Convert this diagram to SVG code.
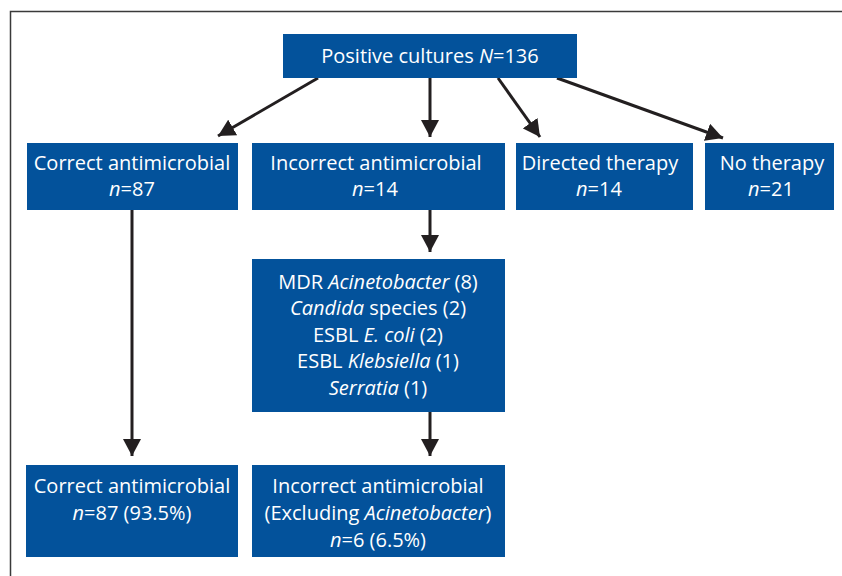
<svg xmlns="http://www.w3.org/2000/svg" width="842" height="576" viewBox="0 0 842 576">
<defs>
<style>
.box{fill:#03529b}
.t{font-family:"Open Sans","Noto Sans",sans-serif;font-size:20px;fill:#ffffff;text-anchor:middle}
.i{font-style:italic}
.c{stroke:#231f20;stroke-width:3;fill:none}
</style>
<marker id="ah" viewBox="0 0 17 18" refX="17" refY="9" markerWidth="17" markerHeight="18" markerUnits="userSpaceOnUse" orient="auto">
<path d="M0,0 L17,9 L0,18 Z" fill="#231f20"/>
</marker>
</defs>
<rect width="842" height="576" fill="#ffffff"/>
<path d="M10.5,576 V11.5 H842" fill="none" stroke="#3a3a3a" stroke-width="1.5"/>
<g id="connectors">
<line class="c" x1="318" y1="78" x2="218" y2="136" marker-end="url(#ah)"/>
<line class="c" x1="430" y1="78" x2="430" y2="137" marker-end="url(#ah)"/>
<line class="c" x1="498" y1="78" x2="540" y2="137" marker-end="url(#ah)"/>
<line class="c" x1="557" y1="78" x2="723" y2="138" marker-end="url(#ah)"/>
<line class="c" x1="132" y1="210" x2="132" y2="456" marker-end="url(#ah)"/>
<line class="c" x1="430" y1="210" x2="430" y2="252" marker-end="url(#ah)"/>
<line class="c" x1="430" y1="412" x2="430" y2="456" marker-end="url(#ah)"/>
</g>
<g id="positive">
<rect class="box" x="283" y="34" width="294" height="44"/>
<text class="t" x="430" y="63">Positive cultures <tspan class="i">N</tspan>=136</text>
</g>
<g id="correct">
<rect class="box" x="27" y="143" width="211" height="67"/>
<text class="t" x="132" y="170">Correct antimicrobial</text>
<text class="t" x="132" y="196"><tspan class="i">n</tspan>=87</text>
</g>
<g id="incorrect">
<rect class="box" x="252" y="143" width="253" height="67"/>
<text class="t" x="376" y="170">Incorrect antimicrobial</text>
<text class="t" x="375" y="196"><tspan class="i">n</tspan>=14</text>
</g>
<g id="directed">
<rect class="box" x="516" y="143" width="177" height="67"/>
<text class="t" x="600" y="170">Directed therapy</text>
<text class="t" x="599" y="196"><tspan class="i">n</tspan>=14</text>
</g>
<g id="notherapy">
<rect class="box" x="705" y="143" width="129" height="67"/>
<text class="t" x="772" y="170">No therapy</text>
<text class="t" x="771" y="196"><tspan class="i">n</tspan>=21</text>
</g>
<g id="organisms">
<rect class="box" x="252" y="259" width="253" height="153"/>
<text class="t" x="378" y="289">MDR <tspan class="i">Acinetobacter</tspan> (8)</text>
<text class="t" x="378" y="315"><tspan class="i">Candida</tspan> species (2)</text>
<text class="t" x="378" y="342">ESBL <tspan class="i">E. coli</tspan> (2)</text>
<text class="t" x="378" y="368">ESBL <tspan class="i">Klebsiella</tspan> (1)</text>
<text class="t" x="378" y="395"><tspan class="i">Serratia</tspan> (1)</text>
</g>
<g id="correct-final">
<rect class="box" x="26" y="465" width="212" height="92"/>
<text class="t" x="132" y="493">Correct antimicrobial</text>
<text class="t" x="132" y="520"><tspan class="i">n</tspan>=87 (93.5%)</text>
</g>
<g id="incorrect-final">
<rect class="box" x="252" y="465" width="253" height="92"/>
<text class="t" x="378" y="493">Incorrect antimicrobial</text>
<text class="t" x="378" y="520">(Excluding <tspan class="i">Acinetobacter</tspan>)</text>
<text class="t" x="378" y="547"><tspan class="i">n</tspan>=6 (6.5%)</text>
</g>
</svg>
